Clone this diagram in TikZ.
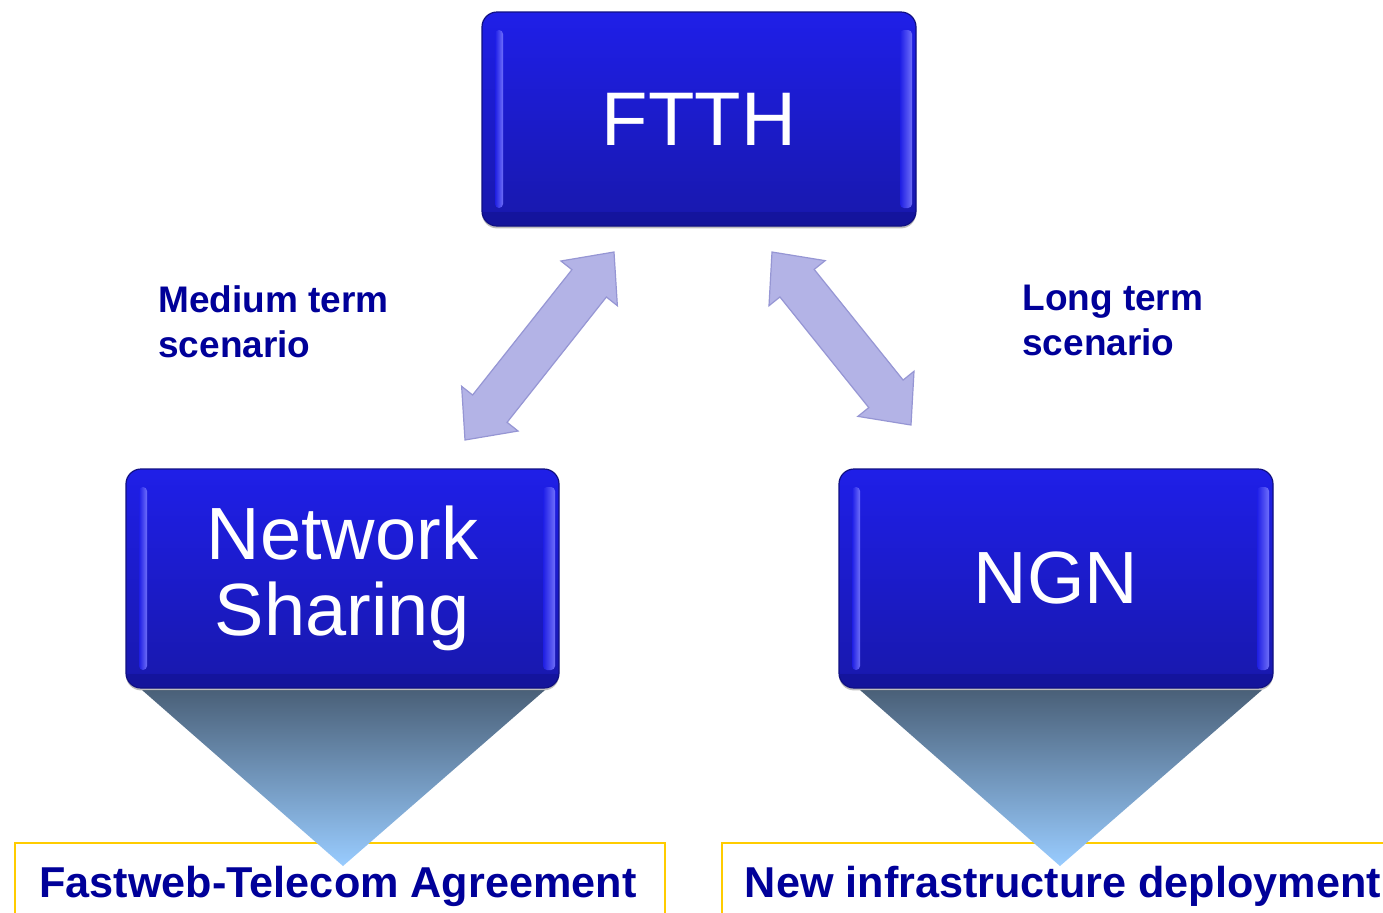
\documentclass[tikz,border=0pt]{standalone}
\usepackage{fontspec}
\setmainfont{Liberation Sans}
\usetikzlibrary{calc,shadows}
\definecolor{navy}{RGB}{0,0,153}
\definecolor{boxtop}{RGB}{31,31,232}
\definecolor{boxbot}{RGB}{24,24,172}
\definecolor{rim}{RGB}{16,16,130}
\definecolor{hilite}{RGB}{120,120,255}
\definecolor{arrowfill}{RGB}{179,179,230}
\definecolor{arrowedge}{RGB}{150,150,212}
\definecolor{tritop}{RGB}{74,96,120}
\definecolor{tribot}{RGB}{153,204,255}
\definecolor{gold}{RGB}{255,204,0}
\tikzset{
  glossy/.style={rounded corners=7.5pt, draw=rim, line width=0.6pt,
    top color=boxtop, bottom color=boxbot, text=white,
    font=\fontsize{37}{39}\selectfont, align=center, inner sep=0pt,
    drop shadow={shadow xshift=0pt, shadow yshift=-1.2pt, opacity=0.5, fill=gray},
    path picture={
      \fill[sharp corners, rim, opacity=0.4] (path picture bounding box.south west) rectangle ([yshift=7pt]path picture bounding box.south east);
      \shade[rounded corners=2pt, left color=boxtop, right color=hilite, opacity=0.9] ([xshift=6.5pt,yshift=-9pt]path picture bounding box.north west) rectangle ([xshift=10.5pt,yshift=9pt]path picture bounding box.south west);
      \shade[rounded corners=2pt, left color=boxtop, right color=hilite, opacity=0.9] ([xshift=-8pt,yshift=-9pt]path picture bounding box.north east) rectangle ([xshift=-2pt,yshift=9pt]path picture bounding box.south east);
    }},
  scen/.style={font=\bfseries\fontsize{18.5}{22.5}\selectfont, text=navy, align=left, inner sep=0pt, anchor=north west},
  bottomtext/.style={font=\bfseries\fontsize{21.6}{24}\selectfont, text=navy, inner sep=0pt, anchor=base},
  goldline/.style={draw=gold, line width=1pt},
  funnel/.style={top color=tritop, bottom color=tribot},
  blockarrow/.style={fill=arrowfill, draw=arrowedge, line width=0.6pt, line join=miter}
}
\newcommand{\dblblockarrow}[2]{%
  \path ($(#2)!20pt!(#1)$) coordinate (hbase) ($(#1)!20pt!(#2)$) coordinate (tbase);
  \path[blockarrow] (#2) -- ($(hbase)!18pt!90:(#2)$) -- ($(hbase)!11pt!90:(#2)$)
    -- ($(tbase)!11pt!-90:(#1)$) -- ($(tbase)!18pt!-90:(#1)$) -- (#1)
    -- ($(tbase)!18pt!90:(#1)$) -- ($(tbase)!11pt!90:(#1)$)
    -- ($(hbase)!11pt!-90:(#2)$) -- ($(hbase)!18pt!-90:(#2)$) -- cycle;
}
\begin{document}
\begin{tikzpicture}[x=0.5pt,y=-0.5pt]
\useasboundingbox (0,0) rectangle (1383,912);
\fill[white] (0,0) rectangle (1383,912);

% yellow frames (open at bottom)
\path[goldline] (15,914) -- (15,843) -- (665,843) -- (665,914);
\path[goldline] (722,914) -- (722,843) -- (1385,843);

% funnels
\path[funnel] (142,690) -- (545,690) -- (343,866) -- cycle;
\path[funnel] (860,690) -- (1262,690) -- (1060,866) -- cycle;

% boxes
\node[glossy, minimum width=217pt, minimum height=107pt, font=\fontsize{38}{40}\selectfont] (ftth) at (699,119) {FTTH};
\node[glossy, minimum width=216.5pt, minimum height=109.5pt] (ns) at (342.5,578.5) {Network\\[-1pt]Sharing};
\node[glossy, minimum width=217pt, minimum height=109.5pt] (ngn) at (1056,578.5) {NGN};

% double block arrows
\coordinate (la) at (465,440);
\coordinate (lb) at (614,252);
\coordinate (ra) at (772,252);
\coordinate (rb) at (911,425);
\dblblockarrow{la}{lb}
\dblblockarrow{rb}{ra}

% scenario labels
\node[scen] (medium) at (158,285) {Medium term\\scenario};
\node[scen] (long) at (1022,285) {Long term\\scenario};

% bottom texts
\node[bottomtext] (fta) at (338,897) {Fastweb-Telecom Agreement};
\node[bottomtext] (nid) at (1063,897) {New infrastructure deployment};
\end{tikzpicture}
\end{document}
